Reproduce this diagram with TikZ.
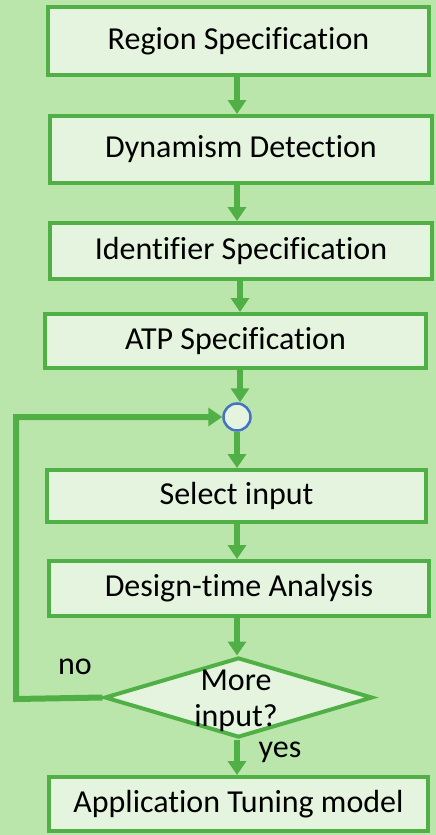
\documentclass[tikz,border=0pt]{standalone}
\usepackage{fontspec}
\setmainfont{Carlito}[Ligatures=NoCommon]
\usetikzlibrary{arrows.meta,shapes.geometric}
\definecolor{bgc}{RGB}{186,230,172}
\definecolor{boxfill}{RGB}{228,244,222}
\definecolor{edge}{RGB}{80,176,70}
\definecolor{ringblue}{RGB}{68,114,196}
\tikzset{
  stepbox/.style={draw=edge, fill=boxfill, line width=4pt, rectangle,
    inner sep=0pt, font=\fontsize{32}{36}\selectfont},
  flow/.style={draw=edge, line width=6pt,
    -{Triangle[width=18pt,length=14pt]}},
  lbl/.style={inner sep=0pt, font=\fontsize{32}{36}\selectfont, align=center}
}
\begin{document}
\begin{tikzpicture}[x=1pt,y=-1pt]
  \fill[bgc] (0,0) rectangle (436,835);
  \useasboundingbox (0,0) rectangle (436,835);

  \coordinate (spine) at (237,0);
  \coordinate (spineb) at (240,0);

  \node[stepbox, minimum width=381pt, minimum height=68pt] (b1) at (238.5,41) {Region Specification};
  \node[stepbox, minimum width=382pt, minimum height=67pt] (b2) at (241,149.5) {Dynamism Detection};
  \node[stepbox, minimum width=382pt, minimum height=56pt] (b3) at (241,251) {Identifier Specification};
  \node[stepbox, minimum width=381pt, minimum height=54pt] (b4) at (235.5,341) {ATP Specification};
  \node[circle, draw=ringblue, fill=boxfill, line width=2.5pt, minimum size=27pt, inner sep=0pt] (join) at (237,417) {};
  \node[stepbox, minimum width=379pt, minimum height=52pt] (b5) at (236.5,496) {Select input};
  \node[stepbox, minimum width=380pt, minimum height=55pt] (b6) at (239,588.5) {Design-time Analysis};
  \node[diamond, draw=edge, fill=boxfill, line width=4pt, inner sep=0pt,
        minimum width=268pt, minimum height=80pt] (dec) at (238.5,697.5) {};
  \node[stepbox, minimum width=379pt, minimum height=54pt] (b7) at (238.5,804) {Application Tuning model};

  \node[lbl] (nolbl) at (75,667) {no};
  \node[lbl] (yeslbl) at (280,752) {yes};

  \coordinate (loopbottom) at (16,699);
  \coordinate (looptop) at (16,417);

  \draw[flow] (b1.south -| spine) -- (b2.north -| spine);
  \draw[flow] (b2.south -| spine) -- (b3.north -| spine);
  \draw[flow] (b3.south -| spineb) -- (b4.north -| spineb);
  \draw[flow] (b4.south -| spineb) -- (join.north -| spineb);
  \draw[flow] (join.south -| spine) -- (b5.north -| spine);
  \draw[flow] (b5.south -| spine) -- (b6.north -| spine);
  \draw[flow] (b6.south -| spine) -- (dec.north -| spine);
  \draw[flow] (dec.south -| spine) -- (b7.north -| spine);
  \draw[flow, line join=miter] (dec.west) -- (loopbottom) -- (looptop) -- (join.west);

  % question text sits above the diamond outline
  \node[lbl] (dectext) at (236,701) {More\\input?};
\end{tikzpicture}
\end{document}
